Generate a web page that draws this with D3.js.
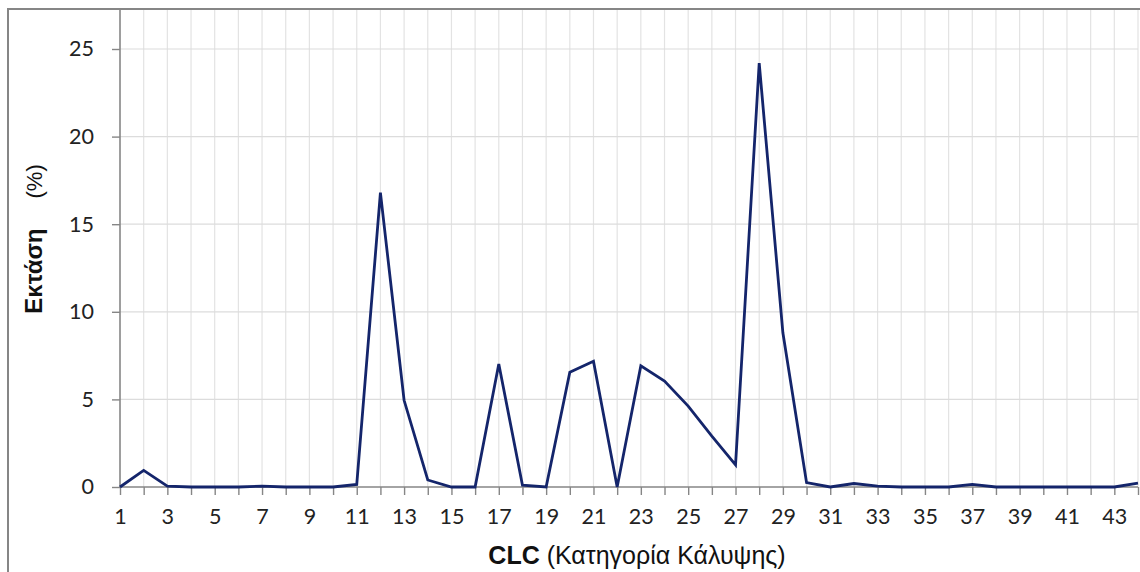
<!DOCTYPE html>
<html><head><meta charset="utf-8">
<script src="https://cdn.jsdelivr.net/npm/d3@7"></script>
<style>body{margin:0;background:#fff;}svg{display:block;}</style>
</head><body>
<svg id="chart" width="1140" height="572"></svg>
<script>
const categories = d3.range(1, 45);
const values = [0, 0.95, 0.05, 0, 0, 0, 0.05, 0, 0, 0,
  0.15, 16.8, 4.95, 0.4, 0, 0, 7.02, 0.1, 0, 6.55,
  7.18, 0, 6.92, 6.05, 4.62, 2.9, 1.26, 24.2, 8.8, 0.25,
  0, 0.2, 0.05, 0, 0, 0, 0.15, 0, 0, 0,
  0, 0, 0, 0.22];
const yTicks = [0, 5, 10, 15, 20, 25];
const xLabelTicks = d3.range(1, 44, 2);
const xTitleBold = "CLC";
const xTitleRest = " (Κατηγορία Κάλυψης)";
const yTitleBold = "Εκτάση";
const yTitleRest = "(%)";

const svg = d3.select("#chart");
const L = 120, R = 1138, T = 10, B = 487;
const x = d3.scaleLinear().domain([1, 44]).range([L, R]);
const y = d3.scaleLinear().domain([0, 25]).range([B, 49]);
const yTop = y.invert(T);

// frame
svg.append("path").attr("d", `M8,572 V9 H1140`).attr("fill", "none")
  .attr("stroke", "#868686").attr("stroke-width", 2);

// gridlines
svg.append("g").selectAll("line").data(categories.slice(1)).join("line")
  .attr("x1", d => x(d)).attr("x2", d => x(d)).attr("y1", y(yTop)).attr("y2", B)
  .attr("stroke", "#e3e3e3").attr("stroke-width", 1.2);
svg.append("g").selectAll("line").data(yTicks.slice(1)).join("line")
  .attr("x1", L).attr("x2", R).attr("y1", d => y(d)).attr("y2", d => y(d))
  .attr("stroke", "#dcdcdc").attr("stroke-width", 1.2);

// y axis
const yAxis = d3.axisLeft(y).tickValues(yTicks).tickSize(8).tickPadding(18).tickFormat(d3.format("d"));
const gy = svg.append("g").attr("transform", `translate(${L},0)`).call(yAxis);
gy.select(".domain").attr("d", `M0,${y(yTop)}V${B}`);
// x axis
const xAxis = d3.axisBottom(x).tickValues(categories).tickSize(8).tickPadding(14)
  .tickFormat(d => xLabelTicks.includes(d) ? d : "");
const gx = svg.append("g").attr("transform", `translate(0,${B})`).call(xAxis);
gx.select(".domain").attr("d", `M${L},0H${R}`);
[gx, gy].forEach(g => {
  g.select(".domain").attr("stroke", "#868686").attr("stroke-width", 1.6);
  g.selectAll(".tick line").attr("stroke", "#868686").attr("stroke-width", 1.4);
  g.selectAll(".tick text").attr("fill", "#222").attr("font-family", "Lato, 'Open Sans', sans-serif").attr("font-size", 21.5);
});

// line
const line = d3.line().x((d, i) => x(categories[i])).y(d => y(d));
svg.append("path").datum(values).attr("d", line).attr("fill", "none")
  .attr("stroke", "#14256b").attr("stroke-width", 2.8).attr("stroke-linejoin", "miter");

// titles
const xt = svg.append("text").attr("x", 637).attr("y", 564).attr("text-anchor", "middle")
  .attr("font-family", "'Liberation Sans', Arial, sans-serif").attr("font-size", 25).attr("fill", "#111");
xt.append("tspan").attr("font-weight", "bold").text(xTitleBold);
xt.append("tspan").text(xTitleRest);

const yt = svg.append("text").attr("transform", `translate(42,239) rotate(-90)`).attr("text-anchor", "middle")
  .attr("font-family", "'Liberation Sans', Arial, sans-serif").attr("font-size", 24).attr("fill", "#111");
yt.append("tspan").attr("font-weight", "bold").text(yTitleBold);
yt.append("tspan").attr("dx", 30).attr("font-size", 22).text(yTitleRest);
</script>
</body></html>
